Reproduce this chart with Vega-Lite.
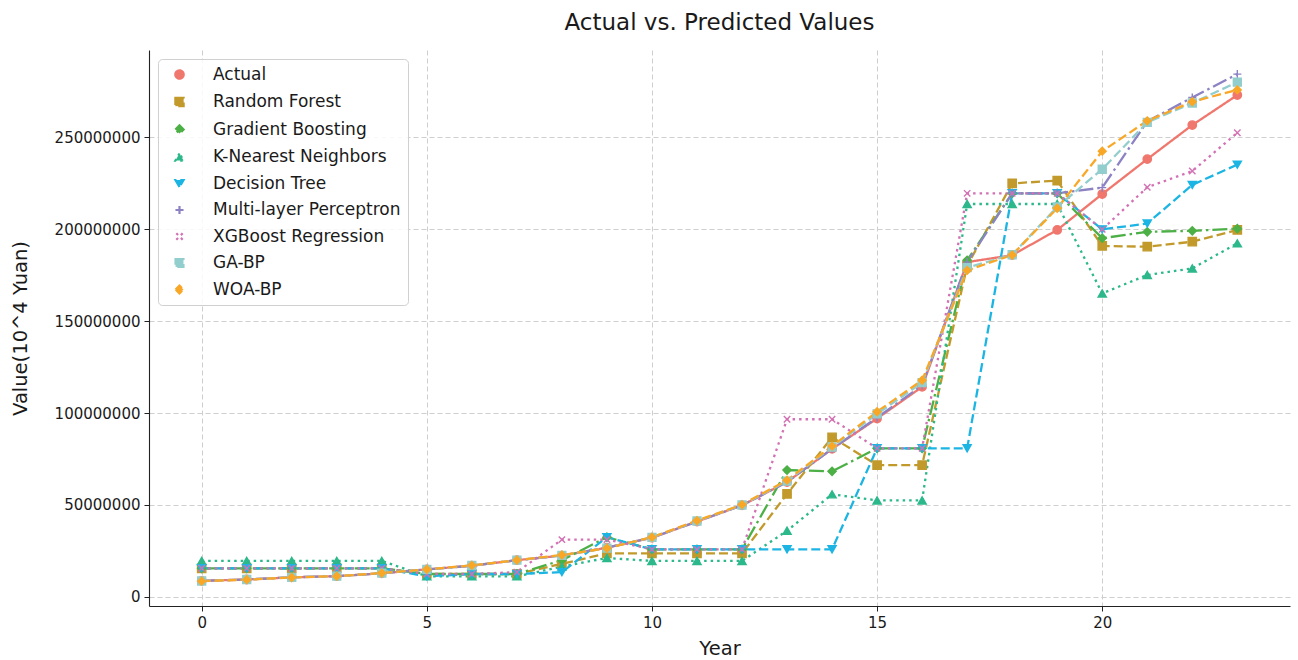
{
  "$schema": "https://vega.github.io/schema/vega-lite/v6.json",
  "width": 1141,
  "height": 556,
  "autosize": {"type": "none"},
  "padding": {"left": 149, "top": 50, "right": 8, "bottom": 54},
  "background": "white",
  "title": {"text": "Actual vs. Predicted Values", "font": "DejaVu Sans", "fontSize": 23, "fontWeight": "normal", "color": "#1a1a1a", "offset": 15, "anchor": "middle"},
  "config": {
    "view": {"stroke": null},
    "axis": {"labelFont": "DejaVu Sans", "titleFont": "DejaVu Sans", "labelFontSize": 15, "titleFontSize": 19.5, "titleFontWeight": "normal", "labelColor": "#1a1a1a", "titleColor": "#1a1a1a", "domainColor": "#222", "domainWidth": 1.1, "tickColor": "#222", "tickSize": 5, "tickWidth": 1, "gridColor": "#c8c8c8", "gridDash": [5, 3], "gridWidth": 0.9, "labelPadding": 4},
    "legend": {"labelFont": "DejaVu Sans", "labelFontSize": 17, "labelColor": "#1a1a1a"}
  },
  "data": {"values": [
    {"year":0,"series":"Actual","value":8800000},{"year":1,"series":"Actual","value":9500000},{"year":2,"series":"Actual","value":10700000},{"year":3,"series":"Actual","value":11300000},{"year":4,"series":"Actual","value":12900000},{"year":5,"series":"Actual","value":15000000},{"year":6,"series":"Actual","value":17000000},{"year":7,"series":"Actual","value":20000000},{"year":8,"series":"Actual","value":22500000},{"year":9,"series":"Actual","value":26800000},{"year":10,"series":"Actual","value":32200000},{"year":11,"series":"Actual","value":41000000},{"year":12,"series":"Actual","value":49800000},{"year":13,"series":"Actual","value":62500000},{"year":14,"series":"Actual","value":80500000},{"year":15,"series":"Actual","value":97000000},{"year":16,"series":"Actual","value":114200000},{"year":17,"series":"Actual","value":182000000},{"year":18,"series":"Actual","value":185800000},{"year":19,"series":"Actual","value":199500000},{"year":20,"series":"Actual","value":219000000},{"year":21,"series":"Actual","value":238000000},{"year":22,"series":"Actual","value":256500000},{"year":23,"series":"Actual","value":272800000},
    {"year":0,"series":"Random Forest","value":15600000},{"year":1,"series":"Random Forest","value":15600000},{"year":2,"series":"Random Forest","value":15600000},{"year":3,"series":"Random Forest","value":15600000},{"year":4,"series":"Random Forest","value":15600000},{"year":5,"series":"Random Forest","value":12500000},{"year":6,"series":"Random Forest","value":12500000},{"year":7,"series":"Random Forest","value":12500000},{"year":8,"series":"Random Forest","value":18000000},{"year":9,"series":"Random Forest","value":23700000},{"year":10,"series":"Random Forest","value":23700000},{"year":11,"series":"Random Forest","value":23700000},{"year":12,"series":"Random Forest","value":23700000},{"year":13,"series":"Random Forest","value":56000000},{"year":14,"series":"Random Forest","value":86800000},{"year":15,"series":"Random Forest","value":71700000},{"year":16,"series":"Random Forest","value":71700000},{"year":17,"series":"Random Forest","value":180000000},{"year":18,"series":"Random Forest","value":224800000},{"year":19,"series":"Random Forest","value":226300000},{"year":20,"series":"Random Forest","value":190800000},{"year":21,"series":"Random Forest","value":190400000},{"year":22,"series":"Random Forest","value":193100000},{"year":23,"series":"Random Forest","value":199500000},
    {"year":0,"series":"Gradient Boosting","value":15600000},{"year":1,"series":"Gradient Boosting","value":15600000},{"year":2,"series":"Gradient Boosting","value":15600000},{"year":3,"series":"Gradient Boosting","value":15600000},{"year":4,"series":"Gradient Boosting","value":15600000},{"year":5,"series":"Gradient Boosting","value":12500000},{"year":6,"series":"Gradient Boosting","value":12500000},{"year":7,"series":"Gradient Boosting","value":12500000},{"year":8,"series":"Gradient Boosting","value":20000000},{"year":9,"series":"Gradient Boosting","value":32500000},{"year":10,"series":"Gradient Boosting","value":25900000},{"year":11,"series":"Gradient Boosting","value":25900000},{"year":12,"series":"Gradient Boosting","value":25900000},{"year":13,"series":"Gradient Boosting","value":69000000},{"year":14,"series":"Gradient Boosting","value":68300000},{"year":15,"series":"Gradient Boosting","value":80800000},{"year":16,"series":"Gradient Boosting","value":80800000},{"year":17,"series":"Gradient Boosting","value":183000000},{"year":18,"series":"Gradient Boosting","value":219400000},{"year":19,"series":"Gradient Boosting","value":219400000},{"year":20,"series":"Gradient Boosting","value":195000000},{"year":21,"series":"Gradient Boosting","value":198500000},{"year":22,"series":"Gradient Boosting","value":199000000},{"year":23,"series":"Gradient Boosting","value":200200000},
    {"year":0,"series":"K-Nearest Neighbors","value":19600000},{"year":1,"series":"K-Nearest Neighbors","value":19600000},{"year":2,"series":"K-Nearest Neighbors","value":19600000},{"year":3,"series":"K-Nearest Neighbors","value":19600000},{"year":4,"series":"K-Nearest Neighbors","value":19600000},{"year":5,"series":"K-Nearest Neighbors","value":11200000},{"year":6,"series":"K-Nearest Neighbors","value":11200000},{"year":7,"series":"K-Nearest Neighbors","value":11200000},{"year":8,"series":"K-Nearest Neighbors","value":16500000},{"year":9,"series":"K-Nearest Neighbors","value":21200000},{"year":10,"series":"K-Nearest Neighbors","value":19600000},{"year":11,"series":"K-Nearest Neighbors","value":19600000},{"year":12,"series":"K-Nearest Neighbors","value":19600000},{"year":13,"series":"K-Nearest Neighbors","value":36000000},{"year":14,"series":"K-Nearest Neighbors","value":55800000},{"year":15,"series":"K-Nearest Neighbors","value":52500000},{"year":16,"series":"K-Nearest Neighbors","value":52500000},{"year":17,"series":"K-Nearest Neighbors","value":213600000},{"year":18,"series":"K-Nearest Neighbors","value":213600000},{"year":19,"series":"K-Nearest Neighbors","value":213600000},{"year":20,"series":"K-Nearest Neighbors","value":165000000},{"year":21,"series":"K-Nearest Neighbors","value":175000000},{"year":22,"series":"K-Nearest Neighbors","value":178600000},{"year":23,"series":"K-Nearest Neighbors","value":192200000},
    {"year":0,"series":"Decision Tree","value":15600000},{"year":1,"series":"Decision Tree","value":15600000},{"year":2,"series":"Decision Tree","value":15600000},{"year":3,"series":"Decision Tree","value":15600000},{"year":4,"series":"Decision Tree","value":15600000},{"year":5,"series":"Decision Tree","value":11200000},{"year":6,"series":"Decision Tree","value":12500000},{"year":7,"series":"Decision Tree","value":12500000},{"year":8,"series":"Decision Tree","value":13500000},{"year":9,"series":"Decision Tree","value":32500000},{"year":10,"series":"Decision Tree","value":25900000},{"year":11,"series":"Decision Tree","value":25900000},{"year":12,"series":"Decision Tree","value":25900000},{"year":13,"series":"Decision Tree","value":25900000},{"year":14,"series":"Decision Tree","value":25900000},{"year":15,"series":"Decision Tree","value":80800000},{"year":16,"series":"Decision Tree","value":80800000},{"year":17,"series":"Decision Tree","value":80800000},{"year":18,"series":"Decision Tree","value":219400000},{"year":19,"series":"Decision Tree","value":219400000},{"year":20,"series":"Decision Tree","value":199800000},{"year":21,"series":"Decision Tree","value":203000000},{"year":22,"series":"Decision Tree","value":224000000},{"year":23,"series":"Decision Tree","value":235000000},
    {"year":0,"series":"Multi-layer Perceptron","value":8800000},{"year":1,"series":"Multi-layer Perceptron","value":9500000},{"year":2,"series":"Multi-layer Perceptron","value":10700000},{"year":3,"series":"Multi-layer Perceptron","value":11300000},{"year":4,"series":"Multi-layer Perceptron","value":12900000},{"year":5,"series":"Multi-layer Perceptron","value":15000000},{"year":6,"series":"Multi-layer Perceptron","value":17000000},{"year":7,"series":"Multi-layer Perceptron","value":20000000},{"year":8,"series":"Multi-layer Perceptron","value":22500000},{"year":9,"series":"Multi-layer Perceptron","value":26800000},{"year":10,"series":"Multi-layer Perceptron","value":32200000},{"year":11,"series":"Multi-layer Perceptron","value":41000000},{"year":12,"series":"Multi-layer Perceptron","value":49800000},{"year":13,"series":"Multi-layer Perceptron","value":62500000},{"year":14,"series":"Multi-layer Perceptron","value":80500000},{"year":15,"series":"Multi-layer Perceptron","value":97500000},{"year":16,"series":"Multi-layer Perceptron","value":115000000},{"year":17,"series":"Multi-layer Perceptron","value":182000000},{"year":18,"series":"Multi-layer Perceptron","value":219400000},{"year":19,"series":"Multi-layer Perceptron","value":219400000},{"year":20,"series":"Multi-layer Perceptron","value":222500000},{"year":21,"series":"Multi-layer Perceptron","value":258500000},{"year":22,"series":"Multi-layer Perceptron","value":271500000},{"year":23,"series":"Multi-layer Perceptron","value":284200000},
    {"year":0,"series":"XGBoost Regression","value":15600000},{"year":1,"series":"XGBoost Regression","value":15600000},{"year":2,"series":"XGBoost Regression","value":15600000},{"year":3,"series":"XGBoost Regression","value":15600000},{"year":4,"series":"XGBoost Regression","value":15600000},{"year":5,"series":"XGBoost Regression","value":12500000},{"year":6,"series":"XGBoost Regression","value":12500000},{"year":7,"series":"XGBoost Regression","value":13500000},{"year":8,"series":"XGBoost Regression","value":31200000},{"year":9,"series":"XGBoost Regression","value":31200000},{"year":10,"series":"XGBoost Regression","value":25900000},{"year":11,"series":"XGBoost Regression","value":25900000},{"year":12,"series":"XGBoost Regression","value":25900000},{"year":13,"series":"XGBoost Regression","value":96600000},{"year":14,"series":"XGBoost Regression","value":96600000},{"year":15,"series":"XGBoost Regression","value":80800000},{"year":16,"series":"XGBoost Regression","value":80800000},{"year":17,"series":"XGBoost Regression","value":219400000},{"year":18,"series":"XGBoost Regression","value":219400000},{"year":19,"series":"XGBoost Regression","value":219400000},{"year":20,"series":"XGBoost Regression","value":199800000},{"year":21,"series":"XGBoost Regression","value":222700000},{"year":22,"series":"XGBoost Regression","value":231500000},{"year":23,"series":"XGBoost Regression","value":252300000},
    {"year":0,"series":"GA-BP","value":8700000},{"year":1,"series":"GA-BP","value":9500000},{"year":2,"series":"GA-BP","value":10700000},{"year":3,"series":"GA-BP","value":11300000},{"year":4,"series":"GA-BP","value":13000000},{"year":5,"series":"GA-BP","value":15000000},{"year":6,"series":"GA-BP","value":17100000},{"year":7,"series":"GA-BP","value":20000000},{"year":8,"series":"GA-BP","value":22600000},{"year":9,"series":"GA-BP","value":26600000},{"year":10,"series":"GA-BP","value":32400000},{"year":11,"series":"GA-BP","value":41300000},{"year":12,"series":"GA-BP","value":50000000},{"year":13,"series":"GA-BP","value":63000000},{"year":14,"series":"GA-BP","value":81500000},{"year":15,"series":"GA-BP","value":99500000},{"year":16,"series":"GA-BP","value":116500000},{"year":17,"series":"GA-BP","value":179000000},{"year":18,"series":"GA-BP","value":186000000},{"year":19,"series":"GA-BP","value":212000000},{"year":20,"series":"GA-BP","value":232500000},{"year":21,"series":"GA-BP","value":258000000},{"year":22,"series":"GA-BP","value":268500000},{"year":23,"series":"GA-BP","value":279800000},
    {"year":0,"series":"WOA-BP","value":8600000},{"year":1,"series":"WOA-BP","value":9400000},{"year":2,"series":"WOA-BP","value":10600000},{"year":3,"series":"WOA-BP","value":11300000},{"year":4,"series":"WOA-BP","value":13000000},{"year":5,"series":"WOA-BP","value":15000000},{"year":6,"series":"WOA-BP","value":17200000},{"year":7,"series":"WOA-BP","value":20000000},{"year":8,"series":"WOA-BP","value":22800000},{"year":9,"series":"WOA-BP","value":26500000},{"year":10,"series":"WOA-BP","value":32500000},{"year":11,"series":"WOA-BP","value":41500000},{"year":12,"series":"WOA-BP","value":50200000},{"year":13,"series":"WOA-BP","value":63500000},{"year":14,"series":"WOA-BP","value":82000000},{"year":15,"series":"WOA-BP","value":100700000},{"year":16,"series":"WOA-BP","value":117800000},{"year":17,"series":"WOA-BP","value":177500000},{"year":18,"series":"WOA-BP","value":185900000},{"year":19,"series":"WOA-BP","value":211300000},{"year":20,"series":"WOA-BP","value":242300000},{"year":21,"series":"WOA-BP","value":258800000},{"year":22,"series":"WOA-BP","value":269200000},{"year":23,"series":"WOA-BP","value":275600000}
  ]},
  "encoding": {
    "x": {"field": "year", "type": "quantitative", "title": "Year", "scale": {"domain": [-1.17, 24.17], "nice": false, "zero": false}, "axis": {"values": [0, 5, 10, 15, 20], "grid": true, "titlePadding": 9, "labelFlush": false}},
    "y": {"field": "value", "type": "quantitative", "title": "Value(10^4 Yuan)", "scale": {"domain": [-4900000, 297300000], "nice": false, "zero": false}, "axis": {"values": [0, 50000000, 100000000, 150000000, 200000000, 250000000], "format": "d", "grid": true, "titlePadding": 24, "labelFlush": false}}
  },
  "layer": [
    {
      "mark": {"type": "line", "strokeWidth": 2.3, "strokeCap": "butt"},
      "encoding": {
        "color": {"field": "series", "type": "nominal", "sort": null,
          "scale": {"domain": ["Actual","Random Forest","Gradient Boosting","K-Nearest Neighbors","Decision Tree","Multi-layer Perceptron","XGBoost Regression","GA-BP","WOA-BP"],
                    "range": ["#F0776D","#C29A2C","#4DB046","#2CB88B","#1CB5E3","#8C82C4","#D271B3","#92CECD","#F9A727"]},
          "legend": {
            "title": null, "orient": "top-left", "offset": 9, "padding": 7, "cornerRadius": 4,
            "strokeColor": "#d0d0d0", "fillColor": "rgba(255,255,255,0.85)",
            "symbolSize": 200, "symbolStrokeWidth": 2.2, "symbolOffset": 6, "labelOffset": 25, "rowPadding": 8.5,
            "labelFontSize": 17, "labelLimit": 400
          }
        },
        "strokeDash": {"field": "series", "type": "nominal", "sort": null, "legend": null,
          "scale": {"domain": ["Actual","Random Forest","Gradient Boosting","K-Nearest Neighbors","Decision Tree","Multi-layer Perceptron","XGBoost Regression","GA-BP","WOA-BP"],
                    "range": [[1,0],[9,4],[15,4,2.5,4],[2.5,4],[9,4],[15,4,2.5,4],[2.5,4],[9,4],[9,4]]}}
      }
    },
    {
      "mark": {"type": "point", "filled": true, "opacity": 1, "strokeWidth": 1.4},
      "encoding": {
        "color": {"field": "series", "type": "nominal", "sort": null},
        "stroke": {"field": "series", "type": "nominal", "sort": null, "legend": null,
          "scale": {"domain": ["Actual","Random Forest","Gradient Boosting","K-Nearest Neighbors","Decision Tree","Multi-layer Perceptron","XGBoost Regression","GA-BP","WOA-BP"],
                    "range": ["#F0776D","#C29A2C","#4DB046","#2CB88B","#1CB5E3","#8C82C4","#D271B3","#92CECD","#F9A727"]}},
        "shape": {"field": "series", "type": "nominal", "sort": null, "legend": null,
          "scale": {"domain": ["Actual","Random Forest","Gradient Boosting","K-Nearest Neighbors","Decision Tree","Multi-layer Perceptron","XGBoost Regression","GA-BP","WOA-BP"],
                    "range": ["circle","square","diamond","triangle-up","triangle-down","M-1,0L1,0M0,-1L0,1","M-0.8,-0.8L0.8,0.8M-0.8,0.8L0.8,-0.8","square","diamond"]}},
        "size": {"field": "series", "type": "nominal", "sort": null, "legend": null,
          "scale": {"domain": ["Actual","Random Forest","Gradient Boosting","K-Nearest Neighbors","Decision Tree","Multi-layer Perceptron","XGBoost Regression","GA-BP","WOA-BP"],
                    "range": [70, 62, 115, 80, 80, 115, 95, 62, 130]}}
      }
    }
  ]
}
